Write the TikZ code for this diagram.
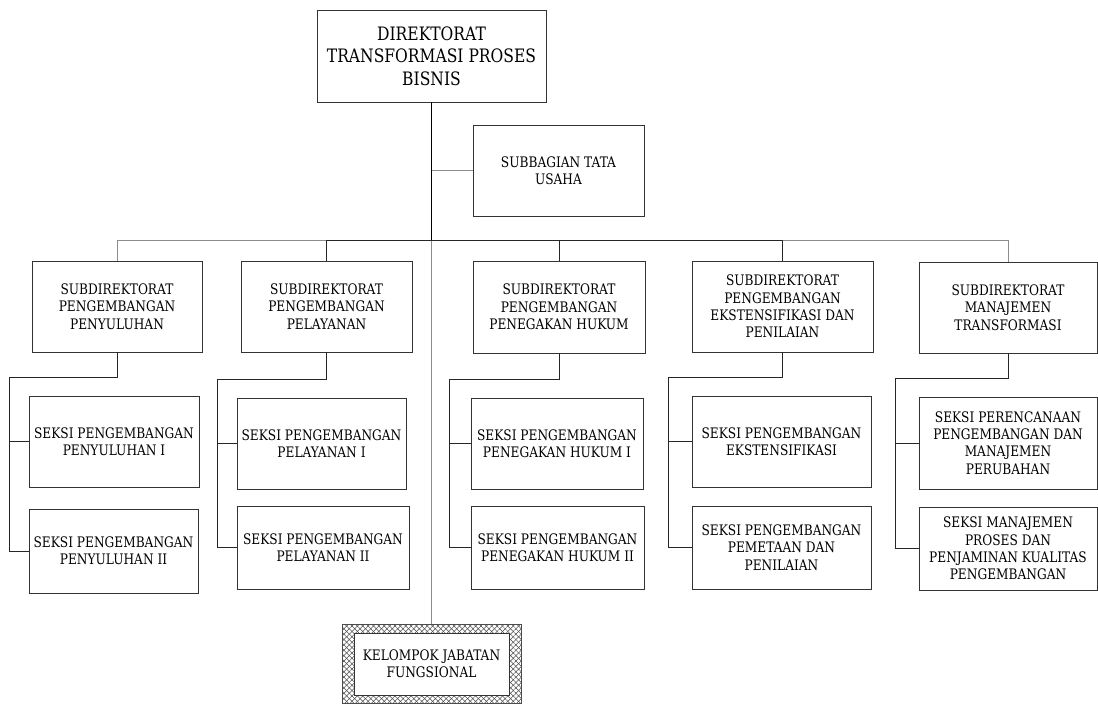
\documentclass[tikz,border=0pt]{standalone}
\usepackage{fontspec}
\setmainfont[FakeStretch=0.84]{DejaVu Serif}
\usetikzlibrary{patterns.meta}

% box given by its edges: name, left, right, top, bottom, text
\newcommand\orgbox[7][box]{%
  \node[#1, minimum width={#4-#3}, minimum height={#6-#5}]
    (#2) at ({(#3+#4)/2},{(#5+#6)/2}) {#7};}

\tikzset{
  box/.style={draw=black!80, line width=0.8pt, fill=white, align=center,
    inner sep=2pt, font=\fontsize{14.5}{17.3}\selectfont},
  titlebox/.style={box, font=\fontsize{18.5}{22.5}\selectfont},
  hatchbox/.style={draw=black!70, line width=0.6pt,
    pattern={Lines[angle=45,distance=3.8pt,line width=0.5pt]}, pattern color=black!70,
    postaction={pattern={Lines[angle=-45,distance=3.8pt,line width=0.5pt]}, pattern color=black!70}},
  link/.style={draw=black!85, line width=0.75pt},
  softlink/.style={draw=black!45, line width=0.9pt},
  mainlink/.style={draw=black, line width=1.5pt}
}

\begin{document}
\begin{tikzpicture}[x=1pt, y=-1pt]
\useasboundingbox (0,0) rectangle (1098,704);

% director and staff unit
\orgbox[titlebox]{dir}{317}{546}{10}{102}{DIREKTORAT\\TRANSFORMASI PROSES\\BISNIS}
\orgbox{tu}{473}{644}{125}{216}{SUBBAGIAN TATA\\USAHA}

% subdirectorates
\orgbox{s1}{32}{202}{261}{352}{SUBDIREKTORAT\\PENGEMBANGAN\\PENYULUHAN}
\orgbox{s2}{241}{412}{261}{352}{SUBDIREKTORAT\\PENGEMBANGAN\\PELAYANAN}
\orgbox{s3}{473}{645}{261}{353}{SUBDIREKTORAT\\PENGEMBANGAN\\PENEGAKAN HUKUM}
\orgbox{s4}{692}{873}{261}{352}{SUBDIREKTORAT\\PENGEMBANGAN\\EKSTENSIFIKASI DAN\\PENILAIAN}
\orgbox{s5}{919}{1097}{262}{353}{SUBDIREKTORAT\\MANAJEMEN\\TRANSFORMASI}

% sections
\orgbox{a1}{29}{199}{396}{487}{SEKSI PENGEMBANGAN\\PENYULUHAN I}
\orgbox{b1}{29}{198}{509}{593}{SEKSI PENGEMBANGAN\\PENYULUHAN II}
\orgbox{a2}{237}{406}{398}{489}{SEKSI PENGEMBANGAN\\PELAYANAN I}
\orgbox{b2}{237}{409}{506}{589}{SEKSI PENGEMBANGAN\\PELAYANAN II}
\orgbox{a3}{471}{643}{398}{489}{SEKSI PENGEMBANGAN\\PENEGAKAN HUKUM I}
\orgbox{b3}{471}{644}{506}{589}{SEKSI PENGEMBANGAN\\PENEGAKAN HUKUM II}
\orgbox{a4}{692}{871}{396}{487}{SEKSI PENGEMBANGAN\\EKSTENSIFIKASI}
\orgbox{b4}{692}{871}{506}{589}{SEKSI PENGEMBANGAN\\PEMETAAN DAN\\PENILAIAN}
\orgbox{a5}{919}{1097}{397}{489}{SEKSI PERENCANAAN\\PENGEMBANGAN DAN\\MANAJEMEN\\PERUBAHAN}
\orgbox{b5}{919}{1097}{507}{590}{SEKSI MANAJEMEN\\PROSES DAN\\PENJAMINAN KUALITAS\\PENGEMBANGAN}

% functional group: hatched frame with a white inner panel
\orgbox[hatchbox]{kel}{342}{521}{624}{703}{}
\orgbox{kelin}{354}{509}{633}{695}{KELOMPOK JABATAN\\FUNGSIONAL}

% junctions
\coordinate (bar) at (431.5,240);
\coordinate (r1) at (9,377);
\coordinate (r2) at (217,379);
\coordinate (r3) at (449,379);
\coordinate (r4) at (668,377);
\coordinate (r5) at (895,378);

% director to staff unit and to the horizontal bar
\draw[softlink] (dir.south |- tu.west) -- (tu.west);
\draw[softlink] (bar) -- (kel.north);
\draw[softlink] (s1.north) |- (s2.north |- bar);
\draw[link] (s2.north) |- (s4.north |- bar);
\draw[link] (s3.north) -- (s3.north |- bar);
\draw[link] (s4.north) -- (s4.north |- bar);
\draw[softlink] (s4.north |- bar) -| (s5.north);
\draw[mainlink] (dir.south) -- (bar);

% subdirectorates to their sections
\foreach \i in {1,...,5}{
  \draw[link] (s\i.south) |- (r\i) |- (a\i.west);
  \draw[link] (r\i) |- (b\i.west);
}
\end{tikzpicture}
\end{document}
